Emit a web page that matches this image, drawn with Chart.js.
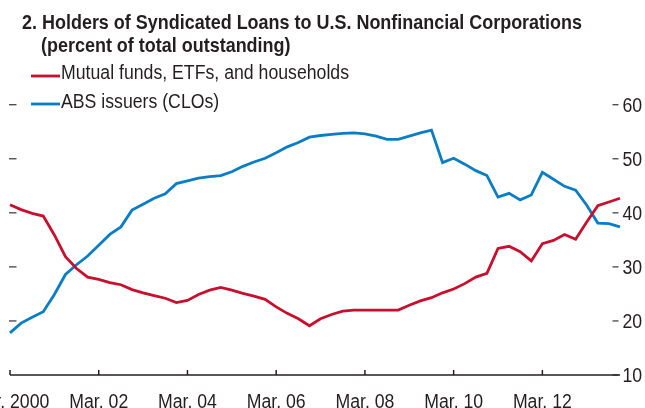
<!DOCTYPE html>
<html>
<head>
<meta charset="utf-8">
<script src="https://cdn.jsdelivr.net/npm/chart.js@4/dist/chart.umd.min.js"></script>
<style>
  html, body { margin: 0; padding: 0; background: #fff; }
  #wrap { width: 645px; height: 408px; }
</style>
</head>
<body>
<div id="wrap"><canvas id="loanChart" width="645" height="408"></canvas></div>
<script>
// quarterly, Mar. 2000 to Dec. 2013
const quarters = [];
for (let yr = 2000; yr <= 2013; yr++) {
  ['Mar.', 'Jun.', 'Sep.', 'Dec.'].forEach(m => quarters.push(m + ' ' + yr));
}

const tickLabels = ['Mar. 2000', 'Mar. 02', 'Mar. 04', 'Mar. 06', 'Mar. 08', 'Mar. 10', 'Mar. 12'];
const tickIndex = [0, 8, 16, 24, 32, 40, 48];
const yTicks = [10, 20, 30, 40, 50, 60];

const mutualFunds = [
  41.5, 40.6, 39.9, 39.4, 35.9, 31.9, 29.7, 28.1, 27.7, 27.1,
  26.7, 25.8, 25.2, 24.7, 24.2, 23.4, 23.8, 24.9, 25.7, 26.2,
  25.7, 25.1, 24.6, 24.0, 22.6, 21.4, 20.4, 19.1, 20.4, 21.2,
  21.8, 22.0, 22.0, 22.0, 22.0, 22.0, 22.9, 23.7, 24.3, 25.2,
  25.9, 26.9, 28.1, 28.8, 33.4, 33.8, 32.8, 31.1, 34.3, 34.9,
  36.0, 35.1, 38.3, 41.3, 42.0, 42.7
];
const absIssuers = [
  17.8, 19.6, 20.7, 21.7, 24.9, 28.6, 30.4, 32.0, 34.0, 36.0,
  37.4, 40.5, 41.6, 42.7, 43.5, 45.4, 45.9, 46.4, 46.7, 46.9,
  47.6, 48.6, 49.4, 50.1, 51.1, 52.2, 53.0, 54.0, 54.3, 54.5,
  54.7, 54.8, 54.6, 54.2, 53.6, 53.6, 54.2, 54.8, 55.3, 49.3,
  50.1, 49.0, 47.8, 46.9, 42.9, 43.6, 42.4, 43.3, 47.5, 46.2,
  44.9, 44.2, 41.4, 38.1, 38.0, 37.4
];

const RED = '#c8102e';
const BLUE = '#0a7dc4';
const INK = '#231f20';
const FONT = "'Liberation Sans', Arial, sans-serif";
const TITLE = '2. Holders of Syndicated Loans to U.S. Nonfinancial Corporations';
const LEG1 = 'Mutual funds, ETFs, and households';

// condensed look: squeeze the text horizontally
function squeezed(ctx, txt, x, y, sx, align) {
  const w = ctx.measureText(txt).width * sx;
  let left = x;
  if (align === 'center') left = x - w / 2;
  ctx.save();
  ctx.translate(left, y);
  ctx.scale(sx, 1);
  ctx.textAlign = 'left';
  ctx.fillText(txt, 0, 0);
  ctx.restore();
}

// title, legend and axes drawn on top of the hidden scales
const overlay = {
  id: 'overlay',
  afterDraw(chart) {
    const { ctx, chartArea: a, scales: { x, y } } = chart;
    ctx.save();
    ctx.fillStyle = INK;
    ctx.textBaseline = 'alphabetic';

    ctx.font = 'bold 21px ' + FONT;
    const tsx = 560 / ctx.measureText(TITLE).width;
    squeezed(ctx, TITLE, 22, 29, tsx);
    squeezed(ctx, '(percent of total outstanding)', 41, 52, tsx);

    ctx.font = '20px ' + FONT;
    const sx = 288 / ctx.measureText(LEG1).width;
    const legend = [[LEG1, RED, 76, 79], ['ABS issuers (CLOs)', BLUE, 104, 107.5]];
    legend.forEach(([txt, col, ly, by]) => {
      ctx.strokeStyle = col;
      ctx.lineWidth = 2.8;
      ctx.beginPath();
      ctx.moveTo(31, ly);
      ctx.lineTo(60, ly);
      ctx.stroke();
      squeezed(ctx, txt, 61, by, sx);
    });

    // y ticks, both sides
    ctx.strokeStyle = '#444';
    ctx.lineWidth = 1.3;
    yTicks.forEach(v => {
      const py = y.getPixelForValue(v);
      if (v > 10) {
        ctx.beginPath();
        ctx.moveTo(9, py);
        ctx.lineTo(16.5, py);
        ctx.stroke();
      }
      ctx.beginPath();
      ctx.moveTo(612.5, py);
      ctx.lineTo(618.5, py);
      ctx.stroke();
      squeezed(ctx, String(v), 622.5, py + 7, sx);
    });

    // x axis
    ctx.strokeStyle = INK;
    ctx.lineWidth = 1.5;
    ctx.beginPath();
    ctx.moveTo(a.left, a.bottom);
    ctx.lineTo(a.right, a.bottom);
    ctx.stroke();
    tickIndex.forEach((q, i) => {
      const px = x.getPixelForValue(q);
      ctx.beginPath();
      ctx.moveTo(px, a.bottom);
      ctx.lineTo(px, a.bottom - 5);
      ctx.stroke();
      squeezed(ctx, tickLabels[i], px, 407.5, sx, 'center');
    });
    ctx.restore();
  }
};

const ctx = document.getElementById('loanChart').getContext('2d');
new Chart(ctx, {
  type: 'line',
  data: {
    labels: quarters,
    datasets: [
      {
        label: LEG1,
        data: mutualFunds,
        borderColor: RED,
        borderWidth: 2.8,
        pointRadius: 0,
        tension: 0,
        clip: false,
      },
      {
        label: 'ABS issuers (CLOs)',
        data: absIssuers,
        borderColor: BLUE,
        borderWidth: 2.8,
        pointRadius: 0,
        tension: 0,
        clip: false,
      },
    ],
  },
  options: {
    responsive: false,
    animation: false,
    layout: { padding: { left: 10, right: 25, top: 104.7, bottom: 33 } },
    plugins: {
      legend: { display: false },
      title: { display: false },
      tooltip: { enabled: false },
    },
    scales: {
      x: { display: false, offset: false },
      y: { display: false, min: 10, max: 60 },
    },
  },
  plugins: [overlay],
});
</script>
</body>
</html>
